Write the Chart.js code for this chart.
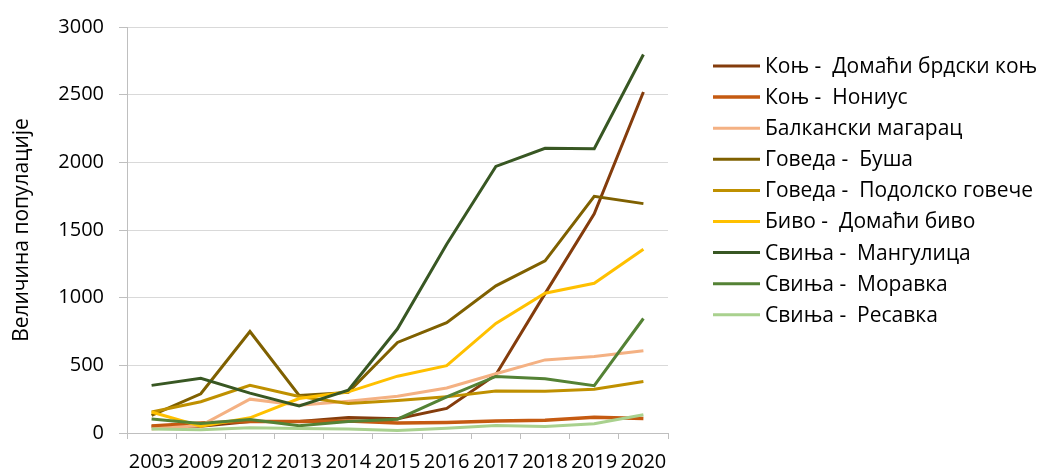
<!DOCTYPE html>
<html>
<head>
<meta charset="utf-8">
<script src="https://cdn.jsdelivr.net/npm/chart.js@4/dist/chart.umd.min.js"></script>
<style>
html,body{margin:0;padding:0;background:#fff;}
#wrap{width:1047px;height:472px;}
</style>
</head>
<body>
<div id="wrap"><canvas id="c" width="1047" height="472"></canvas></div>
<script>
const years = ['2003','2009','2012','2013','2014','2015','2016','2017','2018','2019','2020'];
const yTicks = [0, 500, 1000, 1500, 2000, 2500, 3000];
const seriesNames = [
  'Коњ -  Домаћи брдски коњ',
  'Коњ -  Нониус',
  'Балкански магарац',
  'Говеда -  Буша',
  'Говеда -  Подолско говече',
  'Биво -  Домаћи биво',
  'Свиња -  Мангулица',
  'Свиња -  Моравка',
  'Свиња -  Ресавка'
];
const konjDomaci   = [50, 50, 85, 85, 115, 105, 182, 430, 1030, 1620, 2520];
const konjNonius   = [52, 73, 85, 85, 88, 73, 78, 88, 95, 117, 107];
const magarac      = [30, 55, 250, 205, 235, 272, 333, 438, 540, 566, 608];
const govedaBusa   = [130, 290, 750, 278, 300, 669, 815, 1087, 1272, 1749, 1695];
const govedaPodol  = [155, 231, 352, 270, 218, 240, 267, 311, 308, 323, 380];
const bivo         = [155, 50, 112, 255, 304, 420, 498, 810, 1033, 1106, 1357];
const mangulica    = [352, 404, 295, 200, 316, 770, 1395, 1970, 2104, 2100, 2797];
const moravka      = [103, 70, 100, 53, 85, 102, 267, 418, 401, 350, 846];
const resavka      = [30, 24, 38, 33, 30, 19, 36, 55, 48, 68, 135];

const seriesValues = [konjDomaci, konjNonius, magarac, govedaBusa, govedaPodol, bivo, mangulica, moravka, resavka];
const colors = ['#843C0C','#C55A11','#F4B183','#7F6000','#BF9000','#FFC000','#385723','#548235','#A9D18E'];
const widths = [3, 3.5, 3, 3, 3, 3, 3, 3, 3];

const FONT = '"Open Sans", "Noto Sans", sans-serif';

const sideLegend = {
  id: 'sideLegend',
  afterDraw(chart) {
    const ctx = chart.ctx;
    ctx.save();
    ctx.font = '21px ' + FONT;
    ctx.textBaseline = 'middle';
    ctx.fillStyle = '#000';
    chart.data.datasets.forEach((ds, i) => {
      const y = 66 + i * 31.1;
      ctx.strokeStyle = ds.borderColor;
      ctx.lineWidth = ds.borderWidth;
      ctx.beginPath();
      ctx.moveTo(713, y);
      ctx.lineTo(760, y);
      ctx.stroke();
      ctx.fillText(ds.label, 765, y + 1);
    });
    ctx.restore();
  }
};

new Chart(document.getElementById('c'), {
  type: 'line',
  data: {
    labels: years,
    datasets: seriesValues.map((vals, i) => ({
      label: seriesNames[i],
      data: vals,
      borderColor: colors[i],
      backgroundColor: colors[i],
      borderWidth: widths[i],
      pointRadius: 0,
      tension: 0,
      fill: false,
      order: seriesValues.length - i
    }))
  },
  options: {
    responsive: false,
    animation: false,
    layout: { padding: { left: 0, top: 22, right: 379, bottom: 0 } },
    plugins: { legend: { display: false }, tooltip: { enabled: false } },
    scales: {
      x: {
        offset: true,
        afterFit(s) { s.height = 39; },
        grid: { drawOnChartArea: false, drawTicks: true, tickLength: 6, color: '#bfbfbf', offset: true },
        border: { color: '#bfbfbf', width: 1 },
        ticks: { color: '#000', font: { family: FONT, size: 20 }, padding: 11, maxRotation: 0, autoSkip: false }
      },
      y: {
        min: 0, max: 3000,
        afterFit(s) { s.width = 127; },
        afterBuildTicks(s) { s.ticks = yTicks.map(v => ({ value: v })); },
        grid: { color: '#d9d9d9', lineWidth: 1, tickLength: 8, tickColor: '#bfbfbf' },
        border: { color: '#bfbfbf', width: 1 },
        ticks: { color: '#000', font: { family: FONT, size: 20 }, padding: 15, callback: v => String(v) },
        title: { display: true, text: 'Величина популације', color: '#000', font: { family: FONT, size: 21 }, padding: { top: 9, bottom: 0 } }
      }
    }
  },
  plugins: [sideLegend]
});
</script>
</body>
</html>
